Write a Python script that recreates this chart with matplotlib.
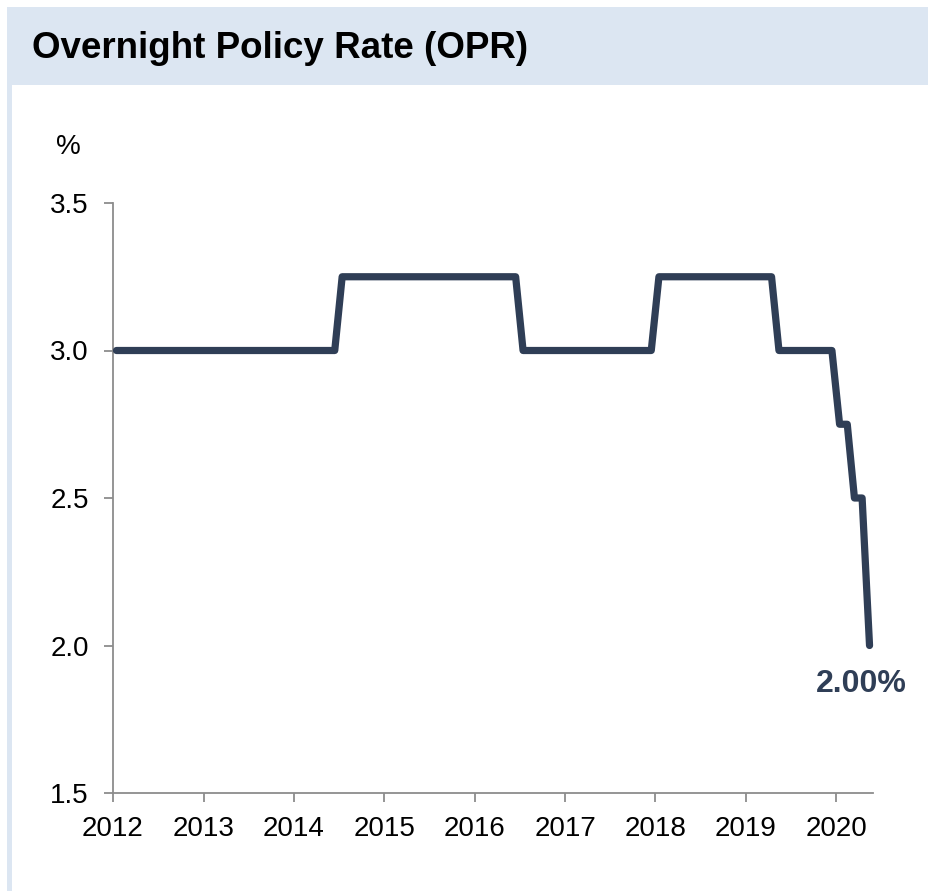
"""Overnight Policy Rate (OPR) line chart, saved to out.png"""
import matplotlib
matplotlib.use("Agg")
import matplotlib.pyplot as plt
import matplotlib.patches as mpatches
import pandas as pd

# monthly OPR readings, Jan 2012 .. May 2020 (plotted mid-month)
months = pd.date_range("2012-01-01", "2020-05-01", freq="MS") + pd.Timedelta(days=14)
opr = ([3.00] * 30 + [3.25] * 24 + [3.00] * 18 + [3.25] * 16
       + [3.00] * 8 + [2.75] * 2 + [2.50] * 2 + [2.00] * 1)
last_label = "2.00%"
y_ticks = [1.5, 2.0, 2.5, 3.0, 3.5]
x_years = list(range(2012, 2021))

LINE = '#2F3E56'
PANEL = '#DCE6F2'
AXIS = '#8C8C8C'
TEXT = '#000000'

plt.rcParams['font.family'] = ['Liberation Sans', 'DejaVu Sans']

fig = plt.figure(figsize=(9.29, 8.91), dpi=100)
fig.patch.set_facecolor('white')

W, H = 929, 891
# title band and left strip
fig.patches.append(mpatches.Rectangle((7 / W, 1 - 85 / H), 1 - 7 / W, 78 / H,
                                      transform=fig.transFigure, fc=PANEL, ec='none', zorder=0))
fig.patches.append(mpatches.Rectangle((7 / W, 0), 5 / W, 1 - 85 / H,
                                      transform=fig.transFigure, fc=PANEL, ec='none', zorder=0))
fig.text(32 / W, 1 - 58 / H, "Overnight Policy Rate (OPR)", ha='left', va='baseline',
         fontsize=26.5, fontweight='bold', color=TEXT)

ax = fig.add_axes([113 / W, 98 / H, 760 / W, 590 / H])
ax.plot(months, opr, color=LINE, lw=5.2, solid_joinstyle='round',
        solid_capstyle='round', zorder=3, clip_on=False)

ax.set_ylim(1.5, 3.5)
ax.set_yticks(y_ticks)
ax.set_yticklabels([f"{v:.1f}" for v in y_ticks])
ax.set_xlim(pd.Timestamp("2012-01-01"), pd.Timestamp("2020-05-29"))
ax.set_xticks([pd.Timestamp(f"{y}-01-01") for y in x_years])
ax.set_xticklabels([str(y) for y in x_years])

for s in ['top', 'right']:
    ax.spines[s].set_visible(False)
for s in ['left', 'bottom']:
    ax.spines[s].set_color(AXIS)
    ax.spines[s].set_linewidth(1.3)
ax.tick_params(axis='both', colors=AXIS, labelcolor=TEXT, labelsize=20,
               length=6.5, width=1.3, direction='out')
ax.tick_params(axis='y', pad=11)
ax.tick_params(axis='x', pad=10)

ax.text(-0.042, 1.095, "%", transform=ax.transAxes, ha='right', va='center',
        fontsize=20, color=TEXT)

# end label
ax.annotate(last_label, xy=(months[-1], opr[-1]), xytext=(-6, -28),
            textcoords='offset points', ha='center', va='center',
            fontsize=23, fontweight='bold', color=LINE, annotation_clip=False)

fig.savefig("out.png", dpi=100)
print("OK out.png")
